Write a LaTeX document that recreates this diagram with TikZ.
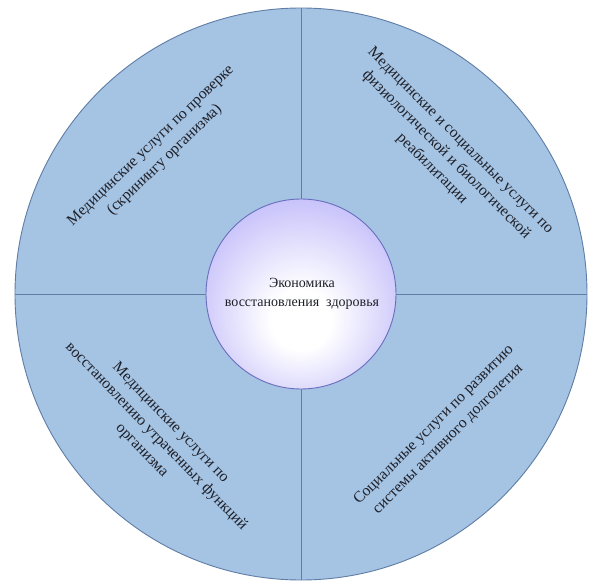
\documentclass[tikz,border=0pt]{standalone}
\usepackage{fontspec}
\setmainfont{Liberation Serif}
\definecolor{ringfill}{RGB}{165,195,227}
\definecolor{ringline}{RGB}{95,125,165}
\definecolor{hubmid}{RGB}{196,190,250}
\definecolor{hubedge}{RGB}{132,118,238}
\definecolor{hubline}{RGB}{105,110,190}
\definecolor{txt}{RGB}{30,32,40}
\pgfdeclareradialshading{hubshade}{\pgfpoint{0bp}{-8bp}}{color(0bp)=(white); color(8bp)=(white); color(30bp)=(hubmid); color(50bp)=(hubedge)}
\begin{document}
\begin{tikzpicture}[x=1pt,y=-1pt,
  lbl/.style={text=txt, align=center, font=\fontsize{15.6}{20}\selectfont, inner sep=0pt},
  divider/.style={draw=ringline, line width=0.8pt}]
\useasboundingbox (0,0) rectangle (606,588);
\coordinate (c) at (301,294);
\fill[ringfill] (c) circle[radius=286];
\node[circle, minimum size=572pt, inner sep=0pt, draw=ringline, line width=0.9pt] (ring) at (c) {};
\draw[divider] (ring.north) -- (ring.south);
\draw[divider] (ring.west) -- (ring.east);
\shade[shading=hubshade] (c) circle[radius=95];
\node[circle, minimum size=190pt, inner sep=0pt, draw=hubline, line width=0.9pt] (hub) at (c) {};
\node[lbl, font=\fontsize{14}{20}\selectfont] (title) at (302,294) {Экономика\\[-1pt]восстановления\ \ здоровья};
\node[lbl, rotate=44] (tl) at (158,153) {Медицинские услуги по проверке\\(скринингу организма)};
\node[lbl, rotate=-45] (tr) at (446,155) {Медицинские и социальные услуги по\\физиологической и биологической\\реабилитации};
\node[lbl, rotate=-46] (bl) at (156,437) {Медицинские услуги по\\восстановлению утраченных функций\\организма};
\node[lbl, rotate=45] (br) at (441,432) {Социальные услуги по развитию\\системы активного долголетия};
\end{tikzpicture}
\end{document}
